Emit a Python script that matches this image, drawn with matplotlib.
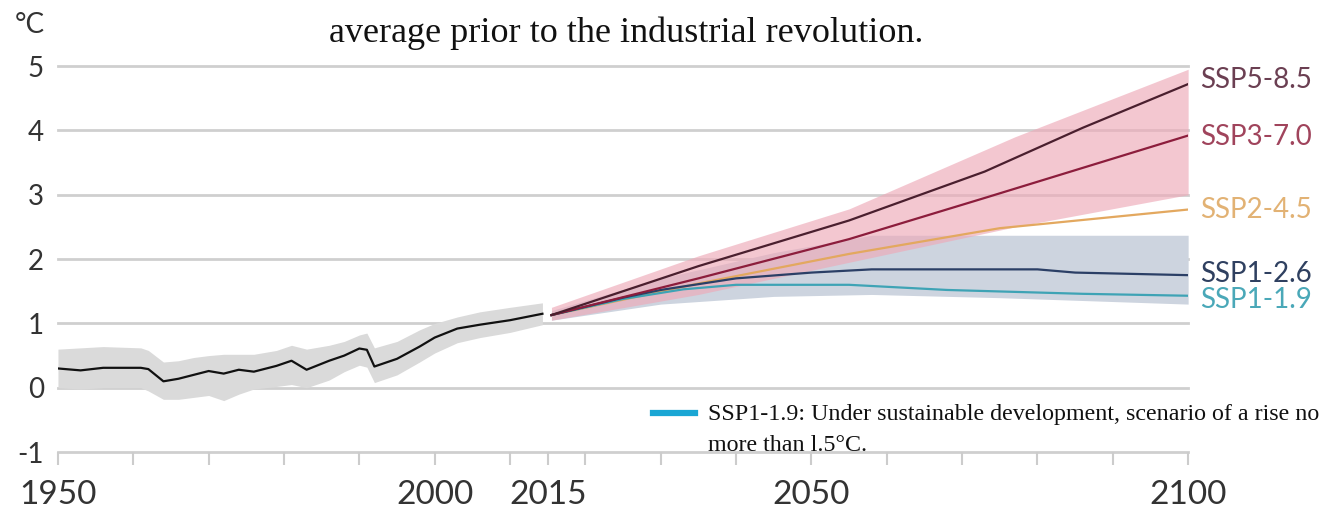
import matplotlib
matplotlib.use("Agg")
import matplotlib.pyplot as plt

# historical record (1950-2014)
hist_years = [1950, 1953, 1956, 1961, 1962, 1964, 1966, 1968, 1970, 1972, 1974, 1976, 1979,
              1981, 1983, 1986, 1988, 1990, 1991, 1992, 1995, 1998, 2000, 2003, 2006, 2010, 2014.3]
hist_mean = [0.30, 0.27, 0.31, 0.31, 0.29, 0.10, 0.14, 0.20, 0.26, 0.22, 0.28, 0.25, 0.34,
             0.42, 0.28, 0.42, 0.50, 0.61, 0.59, 0.33, 0.45, 0.64, 0.78, 0.92, 0.98, 1.05, 1.15]
hist_upper = [0.60, 0.62, 0.64, 0.62, 0.58, 0.40, 0.42, 0.47, 0.50, 0.52, 0.52, 0.52, 0.58,
              0.66, 0.60, 0.66, 0.72, 0.82, 0.85, 0.62, 0.72, 0.90, 1.00, 1.10, 1.18, 1.25, 1.32]
hist_lower = [0.00, -0.02, 0.00, 0.00, -0.05, -0.18, -0.18, -0.15, -0.12, -0.20, -0.10, -0.02, 0.02,
              0.05, 0.00, 0.12, 0.25, 0.35, 0.32, 0.08, 0.20, 0.40, 0.54, 0.70, 0.78, 0.86, 0.98]

# projections (2015-2100)
ssp585_years = [2015.5, 2035, 2055, 2073, 2086, 2100]
ssp585 = [1.13, 1.89, 2.60, 3.36, 4.04, 4.72]
ssp370_years = [2015.5, 2035, 2055, 2073, 2100]
ssp370 = [1.13, 1.70, 2.31, 2.95, 3.92]
ssp245_years = [2015.5, 2035, 2055, 2075, 2100]
ssp245 = [1.13, 1.62, 2.08, 2.48, 2.77]
ssp126_years = [2015.5, 2025, 2030, 2040, 2050, 2058, 2080, 2085, 2100]
ssp126 = [1.13, 1.40, 1.52, 1.70, 1.79, 1.84, 1.84, 1.79, 1.75]
ssp119_years = [2015.5, 2025, 2033, 2040, 2055, 2068, 2086, 2100]
ssp119 = [1.13, 1.38, 1.53, 1.60, 1.60, 1.52, 1.46, 1.43]

red_band_years = [2015.5, 2035, 2055, 2077, 2100]
red_upper = [1.25, 2.05, 2.78, 3.90, 4.95]
red_lower = [1.05, 1.45, 1.95, 2.50, 3.00]
blue_band_years = [2015.5, 2030, 2045, 2058, 2075, 2100]
blue_upper = [1.20, 1.70, 2.10, 2.37, 2.37, 2.37]
blue_lower = [1.05, 1.30, 1.42, 1.45, 1.40, 1.30]

scenario_names = ["SSP5-8.5", "SSP3-7.0", "SSP2-4.5", "SSP1-2.6", "SSP1-1.9"]
label_y = [4.78, 3.90, 2.77, 1.77, 1.37]
label_colors = ["#6b3f52", "#a0445c", "#e2b274", "#2f4060", "#4aa8b8"]

y_ticks = [-1, 0, 1, 2, 3, 4, 5]
x_major = [1950, 2000, 2015, 2050, 2100]
x_minor = [1960, 1970, 1980, 1990, 2010, 2020, 2030, 2040, 2060, 2070, 2080, 2090]

fig = plt.figure(figsize=(13.32, 5.12), dpi=100)
ax = fig.add_axes([0.0435, 0.117, 0.8485, 0.754])
ax.set_xlim(1950, 2100)
ax.set_ylim(-1, 5)

for v in y_ticks:
    ax.axhline(v, color="#cfcfcf", lw=2, zorder=0, clip_on=False)

# historical
ax.fill_between(hist_years, hist_lower, hist_upper, color="#dadada", lw=0, zorder=1)
ax.plot(hist_years, hist_mean, color="#111111", lw=1.6, zorder=5)

# projection bands
ax.fill_between(blue_band_years, blue_lower, blue_upper, color="#cdd4df", lw=0, zorder=1)
ax.fill_between(red_band_years, red_lower, red_upper, color="#eea9b8", alpha=0.65, lw=0, zorder=2)

ax.plot(ssp245_years, ssp245, color="#e3a85f", lw=1.6, zorder=4)
ax.plot(ssp119_years, ssp119, color="#3ea3b5", lw=1.6, zorder=4)
ax.plot(ssp126_years, ssp126, color="#2b3f66", lw=1.6, zorder=4)
ax.plot(ssp370_years, ssp370, color="#8c1d3c", lw=1.6, zorder=4)
ax.plot(ssp585_years, ssp585, color="#4a1f2e", lw=1.6, zorder=4)

for name, yv, c in zip(scenario_names, label_y, label_colors):
    ax.text(2101.6, yv, name, color=c, fontsize=20, family="Lato",
            va="center", ha="left", clip_on=False)

for s in ax.spines.values():
    s.set_visible(False)

ax.set_yticks(y_ticks)
ax.set_yticklabels([str(v) for v in y_ticks], family="Lato", fontsize=20, color="#333333")
ax.tick_params(axis="y", length=0, pad=10)

ax.set_xticks(x_major)
ax.set_xticklabels([str(v) for v in x_major], family="Lato", fontsize=24, color="#333333")
ax.set_xticks(x_minor, minor=True)
ax.tick_params(axis="x", which="both", direction="out", length=9, width=1.5,
               color="#cccccc", pad=11)

fig.text(0.0335, 0.951, "°C", family="Lato", fontsize=20, color="#333333",
         ha="right", va="center")
fig.text(0.47, 0.918, "average prior to the industrial revolution.",
         family="Liberation Serif", fontsize=26, color="#111111",
         ha="center", va="baseline")

# legend-like note
ax.plot([2029, 2034.5], [-0.4, -0.4], color="#1aa6d4", lw=4.5, clip_on=False, zorder=6)
ax.text(2036.3, -0.42, "SSP1-1.9: Under sustainable development, scenario of a rise no",
        family="Liberation Serif", fontsize=17.3, color="#111111", va="center",
        ha="left", clip_on=False, zorder=6)
ax.text(2036.3, -0.90, "more than l.5°C.",
        family="Liberation Serif", fontsize=17.3, color="#111111", va="center",
        ha="left", clip_on=False, zorder=6)

fig.savefig("out.png", dpi=100, facecolor="white")
